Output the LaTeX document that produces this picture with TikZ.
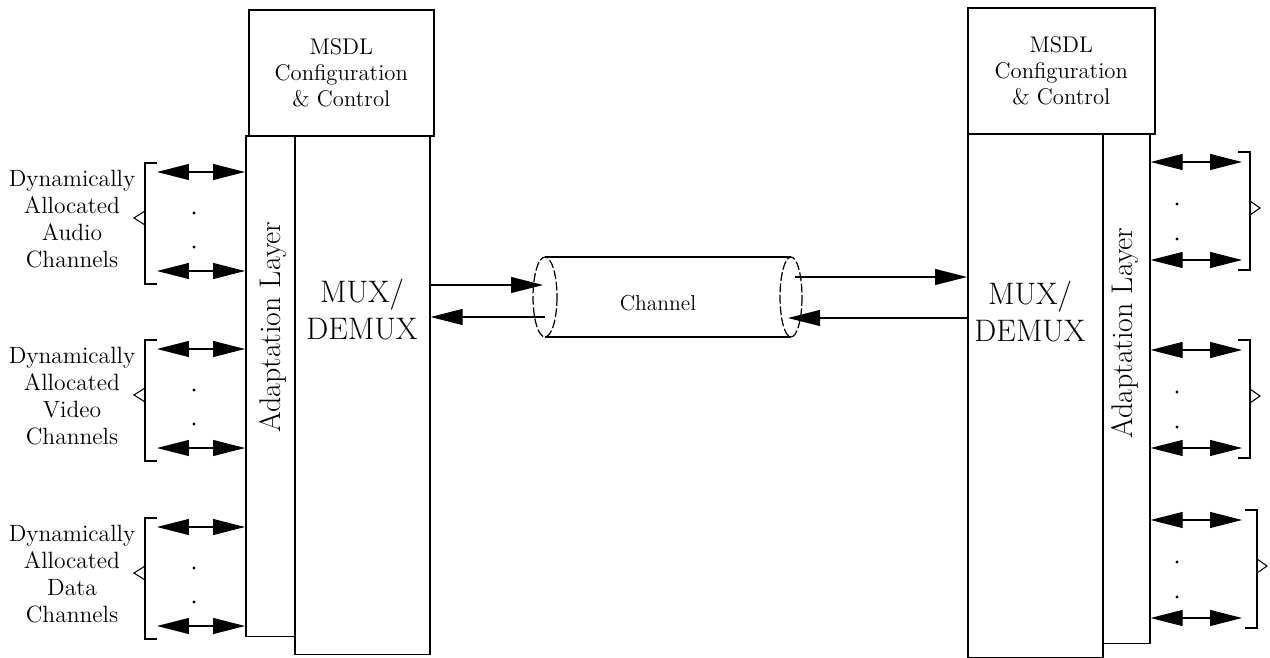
\documentclass[tikz,border=0pt]{standalone}
\usepackage{tikz}
\usetikzlibrary{arrows.meta, positioning}

\begin{document}
\begin{tikzpicture}[
    x=0.02cm, y=-0.02cm,
    blk/.style={
        draw, line width=0.9pt,
        anchor=north west,
        inner sep=0pt
    },
    cfg/.style={blk, minimum height=2.52cm, align=center,
        font=\fontsize{12.9}{15}\selectfont},
    adapt/.style={blk},
    mux/.style={blk, minimum width=2.7cm},
    bigtxt/.style={align=center, font=\fontsize{17.7}{21}\selectfont},
    layertxt/.style={rotate=90, font=\fontsize{17}{20}\selectfont},
    grp/.style={align=center, font=\fontsize{13.4}{15.4}\selectfont},
    dbl/.style={line width=0.6pt,
        {Triangle[length=0.64cm, width=0.32cm]}-{Triangle[length=0.64cm, width=0.32cm]}},
    flow/.style={line width=0.6pt, -{Triangle[length=0.64cm, width=0.32cm]}},
    brk/.style={line width=0.6pt},
    pipe/.style={line width=0.7pt},
    pipeend/.style={line width=0.7pt, dash pattern=on 5pt off 1.5pt}
]
\useasboundingbox (0,0) rectangle (1270,658);

% ------- Left terminal -------
\node[cfg, minimum width=3.7cm] (cfgL) at (248,9)
    {MSDL\\Configuration\\\& Control};
\node[adapt, minimum width=0.98cm, minimum height=10.02cm] (adaptL) at (245,135) {};
\node[mux, minimum height=10.38cm] (muxL) at (294,135) {};
\node[bigtxt] (muxLtxt) at (362,310) {MUX/\\DEMUX};
\node[layertxt] (adaptLtxt) at (273,327) {Adaptation Layer};

% ------- Right terminal -------
\node[cfg, minimum width=3.74cm] (cfgR) at (967,7)
    {MSDL\\Configuration\\\& Control};
\node[mux, minimum height=10.48cm] (muxR) at (967,133) {};
\node[adapt, minimum width=0.94cm, minimum height=10.2cm] (adaptR) at (1102,133) {};
\node[bigtxt] (muxRtxt) at (1030,312) {MUX/\\DEMUX};
\node[layertxt] (adaptRtxt) at (1125,333) {Adaptation Layer};

% ------- Channel pipe -------
\coordinate (pipeL) at (545,297);
\coordinate (pipeR) at (791,297);
\draw[pipe] (545,257) -- (791,257) (545,337) -- (791,337);
\draw[pipeend] (pipeL) ellipse [x radius=12, y radius=40];
\draw[pipeend] (pipeR) ellipse [x radius=11, y radius=40];
\node[font=\fontsize{12.3}{14}\selectfont] (chan) at (658,303) {Channel};

% flows between the muxes and the pipe
\coordinate (inL) at (543,285);
\coordinate (outL) at (545,317);
\coordinate (outR) at (795,277);
\coordinate (inR) at (788,318);
\draw[flow] (muxL.east |- inL) -- (inL);
\draw[flow] (outL) -- (muxL.east |- outL);
\draw[flow] (outR) -- (outR -| muxR.west);
\draw[flow] (inR -| muxR.west) -- (inR);

% ------- Left channel groups -------
\foreach \t/\kind/\nm in {172/Audio/aud, 349/Video/vid, 527/Data/dat} {
    \coordinate (\nm1) at (157,\t);
    \coordinate (\nm2) at (157,\t+99);
    \draw[dbl] (\nm1) -- (\nm1 -| adaptL.west);
    \draw[dbl] (\nm2) -- (\nm2 -| adaptL.west);
    \fill (194,\t+41) circle[radius=1.6] (194,\t+75) circle[radius=1.6];
    \draw[brk] (157,\t-9) -- (145,\t-9) -- (145,\t+112) -- (157,\t+112);
    \draw[brk] (145,\t+39) -- (134,\t+46) -- (145,\t+53);
    \node[grp] (\nm lab) at (72,\t+47) {Dynamically\\Allocated\\\kind\\Channels};
}

% ------- Right channel groups -------
\foreach \t/\bx/\nm in {162/1250/ra, 350/1250/rb, 520/1257/rc} {
    \coordinate (\nm1) at (1242,\t);
    \coordinate (\nm2) at (1242,\t+98);
    \draw[dbl] (\nm1 -| adaptR.east) -- (\nm1);
    \draw[dbl] (\nm2 -| adaptR.east) -- (\nm2);
    \fill (1177,\t+42) circle[radius=1.6] (1177,\t+77) circle[radius=1.6];
    \draw[brk] (\bx-12,\t-10) -- (\bx,\t-10) -- (\bx,\t+108) -- (\bx-12,\t+108);
    \draw[brk] (\bx,\t+39) -- (\bx+10,\t+46) -- (\bx,\t+53);
}
\end{tikzpicture}
\end{document}
